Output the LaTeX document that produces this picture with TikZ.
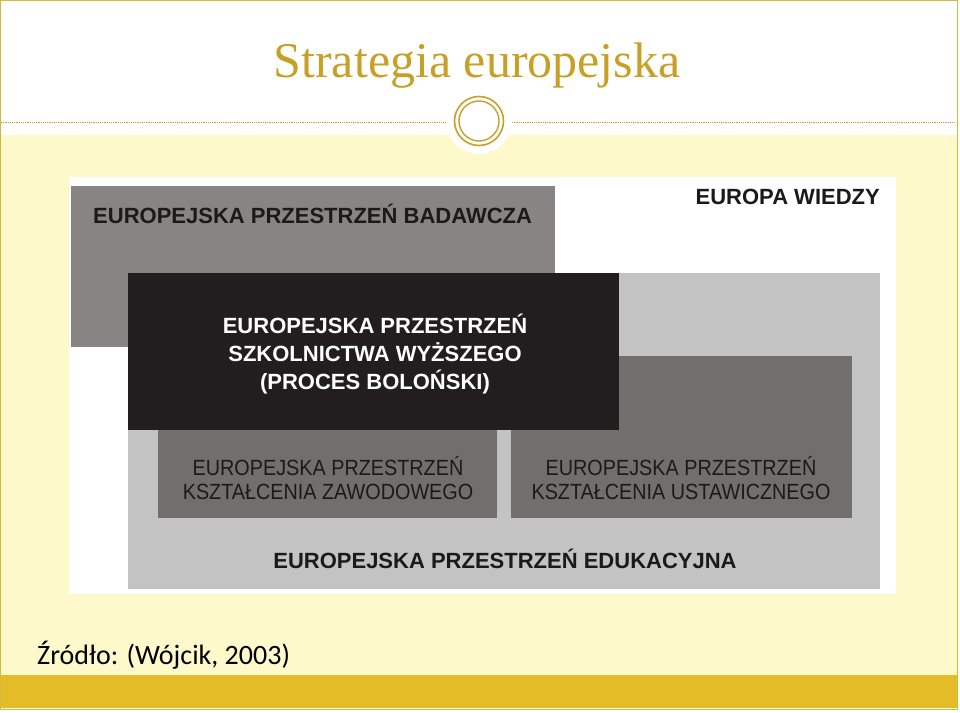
\documentclass[tikz,border=0pt]{standalone}
\usepackage{fontspec}
\setmainfont{Liberation Serif}
\newfontfamily\arial{Liberation Sans}
\newfontfamily\arialc[FakeStretch=0.9]{Liberation Sans}
\newfontfamily\calibri{Carlito}
\definecolor{gold}{RGB}{200,160,40}
\definecolor{paleyellow}{RGB}{253,249,202}
\definecolor{bargold}{RGB}{228,188,40}
\definecolor{bordergold}{RGB}{214,184,64}
\definecolor{midgray}{RGB}{135,133,131}
\definecolor{lightgray}{RGB}{195,195,195}
\definecolor{darkgray}{RGB}{112,111,109}
\definecolor{nearblack}{RGB}{34,30,31}
\definecolor{textdark}{RGB}{26,26,26}
\tikzset{
  area/.style={draw=none, inner sep=0pt},
  boldlbl/.style={font=\arial\bfseries\fontsize{22}{28}\selectfont, inner sep=0pt, text=textdark},
  thinlbl/.style={font=\arialc\fontsize{22}{24}\selectfont, inner sep=0pt, text=textdark, align=center},
}
\begin{document}
\begin{tikzpicture}[x=1pt,y=-1pt]
\useasboundingbox (0,0) rectangle (960,712);
% slide background
\fill[white] (0,0) rectangle (960,712);
\fill[paleyellow] (1,135) rectangle (957,675);
\fill[bargold] (1,675) rectangle (957,708);
\draw[bordergold, line width=1pt] (0.5,0.5) rectangle (957,709);
% dashed separator
\coordinate (dl0) at (1,122.5);
\coordinate (dl1) at (446,122.5);
\coordinate (dr0) at (512,122.5);
\coordinate (dr1) at (956,122.5);
\draw[gold, line width=0.8pt, dash pattern=on 1.2pt off 1pt] (dl0) -- (dl1);
\draw[gold, line width=0.8pt, dash pattern=on 1.2pt off 1pt] (dr0) -- (dr1);
% medallion
\node[circle, fill=white, minimum size=66pt, inner sep=0pt] (disc) at (479,121) {};
\node[circle, draw=gold, line width=1.6pt, minimum size=49pt, inner sep=0pt] (ringout) at (disc.center) {};
\node[circle, draw=gold, line width=1.4pt, minimum size=40pt, inner sep=0pt] (ringin) at (disc.center) {};
% title
\node[font=\fontsize{50}{56}\selectfont, text=gold, inner sep=0pt, anchor=base] (title) at (477,77) {Strategia europejska};
% diagram
\fill[white] (69,177) rectangle (896,594);
\fill[midgray] (71,186) rectangle (555,347);
\fill[lightgray] (128,273) rectangle (880,589);
\fill[darkgray] (511,356) rectangle (852,518);
\fill[darkgray] (158,400) rectangle (497,518);
\fill[nearblack] (128,273) rectangle (619,430);
% labels
\node[boldlbl, anchor=base west] (badawcza) at (93,223) {EUROPEJSKA PRZESTRZEŃ BADAWCZA};
\node[boldlbl, anchor=base east] (wiedzy) at (880,204) {EUROPA WIEDZY};
\node[boldlbl, text=white, align=center, anchor=base] (bolonia) at (375,389) {EUROPEJSKA PRZESTRZEŃ\\SZKOLNICTWA WYŻSZEGO\\(PROCES BOLOŃSKI)};
\node[thinlbl, anchor=base] (zawod) at (328,499) {EUROPEJSKA PRZESTRZEŃ\\KSZTAŁCENIA ZAWODOWEGO};
\node[thinlbl, anchor=base] (ustaw) at (681,499) {EUROPEJSKA PRZESTRZEŃ\\KSZTAŁCENIA USTAWICZNEGO};
\node[boldlbl, anchor=base] (eduk) at (505,568) {EUROPEJSKA PRZESTRZEŃ EDUKACYJNA};
% source
\node[font=\calibri\fontsize{28}{32}\selectfont, inner sep=0pt, anchor=base west] (zrodlo) at (37,664) {Źródło: (Wójcik, 2003)};
\end{tikzpicture}
\end{document}
